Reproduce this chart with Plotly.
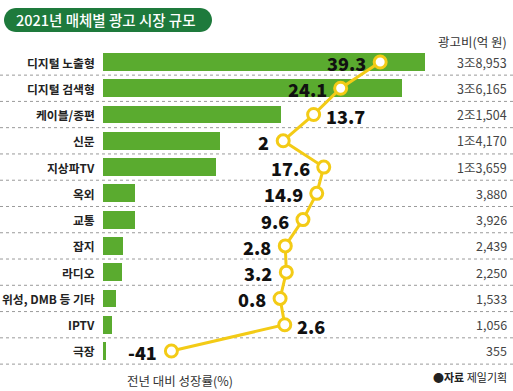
import math
import plotly.graph_objects as go

categories = ["디지털 노출형", "디지털 검색형", "케이블/종편", "신문", "지상파TV", "옥외",
              "교통", "잡지", "라디오", "위성, DMB 등 기타", "IPTV", "극장"]
spend = [38953, 36165, 21504, 14170, 13659, 3880, 3926, 2439, 2250, 1533, 1056, 355]  # 억 원
growth = [39.3, 24.1, 13.7, 2, 17.6, 14.9, 9.6, 2.8, 3.2, 0.8, 2.6, -41]  # %
label_side = ["l", "l", "r", "l", "l", "l", "l", "l", "l", "l", "r", "l"]


def fmt_won(v):
    if v >= 10000:
        return f"{v // 10000}조{v % 10000:,}"
    return f"{v:,}"


W, H = 513, 391
FONT = "Noto Sans CJK KR"
NUMFONT = "Noto Sans CJK KR Black, Noto Sans CJK KR"
GREEN = "#5aab2f"
DARK = "#1e7a3c"
YELLOW = "#f3cb16"

n = len(categories)
row0, pitch = 62, 26.27
y_top = -row0 / pitch
y_bot = (H - row0) / pitch

bar_left = 103
bar_full_px = 322  # pixel length of the biggest bar
x_max = max(spend) * (W - bar_left) / bar_full_px

g_zero_px, g_scale = 278, 2.6
g_min = (bar_left - g_zero_px) / g_scale
g_max = (W - g_zero_px) / g_scale


def px(x):
    return x / W


def py(y):
    return 1 - y / H


def pill_path(x0, y0, x1, y1):
    r = (y1 - y0) / 2
    cy = (y0 + y1) / 2
    pts = []
    for k in range(0, 19):
        a = math.pi / 2 - math.pi * k / 18  # right half: top -> bottom
        pts.append((x1 - r + r * math.cos(a), cy - r * math.sin(a)))
    for k in range(0, 19):
        a = -math.pi / 2 - math.pi * k / 18  # left half: bottom -> top
        pts.append((x0 + r + r * math.cos(a), cy - r * math.sin(a)))
    d = "M " + " L ".join(f"{px(a):.5f},{py(b):.5f}" for a, b in pts) + " Z"
    return d


fig = go.Figure()
fig.add_trace(go.Bar(
    y=categories, x=spend, orientation="h", marker=dict(color=GREEN, line=dict(width=0)),
    width=0.68, hoverinfo="skip", xaxis="x", yaxis="y"))
fig.add_trace(go.Scatter(
    y=categories, x=growth, mode="lines+markers", xaxis="x2", yaxis="y",
    line=dict(color=YELLOW, width=3),
    marker=dict(size=12, color="white", line=dict(color=YELLOW, width=3)),
    hoverinfo="skip"))

annotations = []
shapes = []
for i, (c, s, g, side) in enumerate(zip(categories, spend, growth, label_side)):
    annotations.append(dict(xref="paper", yref="y", x=px(97), y=c, text=f"<b>{c}</b>",
                            xanchor="right", yanchor="middle", showarrow=False,
                            font=dict(family=FONT, size=11.8, color="#222")))
    annotations.append(dict(xref="paper", yref="y", x=px(509), y=c, text=fmt_won(s),
                            xanchor="right", yanchor="middle", showarrow=False,
                            font=dict(family=FONT, size=12.5, color="#444")))
    annotations.append(dict(xref="x2", yref="y", x=g, y=c, text=f"{g:g}",
                            xanchor="right" if side == "l" else "left",
                            xshift=-12 if side == "l" else 10, yshift=-1,
                            yanchor="middle", showarrow=False,
                            font=dict(family=NUMFONT, size=18, color="#111", weight=900)))
    shapes.append(dict(type="line", xref="paper", yref="y", x0=0, x1=1, y0=i + 0.5, y1=i + 0.5,
                       line=dict(color="#9a9a9a", width=1, dash="dot"), layer="below"))

# title pill
shapes.append(dict(type="path", xref="paper", yref="paper", path=pill_path(4, 8, 212, 32),
                   fillcolor=DARK, line=dict(width=0)))
annotations.append(dict(xref="paper", yref="paper", x=px(106), y=py(20),
                        text="2021년 매체별 광고 시장 규모", showarrow=False,
                        xanchor="center", yanchor="middle",
                        font=dict(family=FONT, size=14.5, color="white", weight=500)))
annotations.append(dict(xref="paper", yref="paper", x=px(509), y=py(42),
                        text="광고비(억 원)", showarrow=False, xanchor="right", yanchor="middle",
                        font=dict(family=FONT, size=12.5, color="#333")))
annotations.append(dict(xref="paper", yref="paper", x=px(180), y=py(380),
                        text="전년 대비 성장률(%)", showarrow=False, xanchor="center",
                        yanchor="middle", font=dict(family=FONT, size=12.5, color="#333")))
annotations.append(dict(xref="paper", yref="paper", x=px(509), y=py(377),
                        text="●<b>자료</b> 제일기획", showarrow=False, xanchor="right",
                        yanchor="middle", font=dict(family=FONT, size=11, color="#222")))

fig.update_layout(
    width=W, height=H, margin=dict(l=0, r=0, t=0, b=0),
    paper_bgcolor="white", plot_bgcolor="white", showlegend=False,
    xaxis=dict(domain=[bar_left / W, 1], range=[0, x_max], visible=False, fixedrange=True),
    xaxis2=dict(domain=[bar_left / W, 1], range=[g_min, g_max], overlaying="x",
                visible=False, fixedrange=True),
    yaxis=dict(domain=[0, 1], type="category", categoryarray=categories,
               range=[y_bot, y_top], visible=False, fixedrange=True),
    shapes=shapes, annotations=annotations, bargap=0,
)

fig.write_html("out.html", config={"displayModeBar": False},
               post_script="document.body.style.margin='0';document.body.style.overflow='hidden';")
